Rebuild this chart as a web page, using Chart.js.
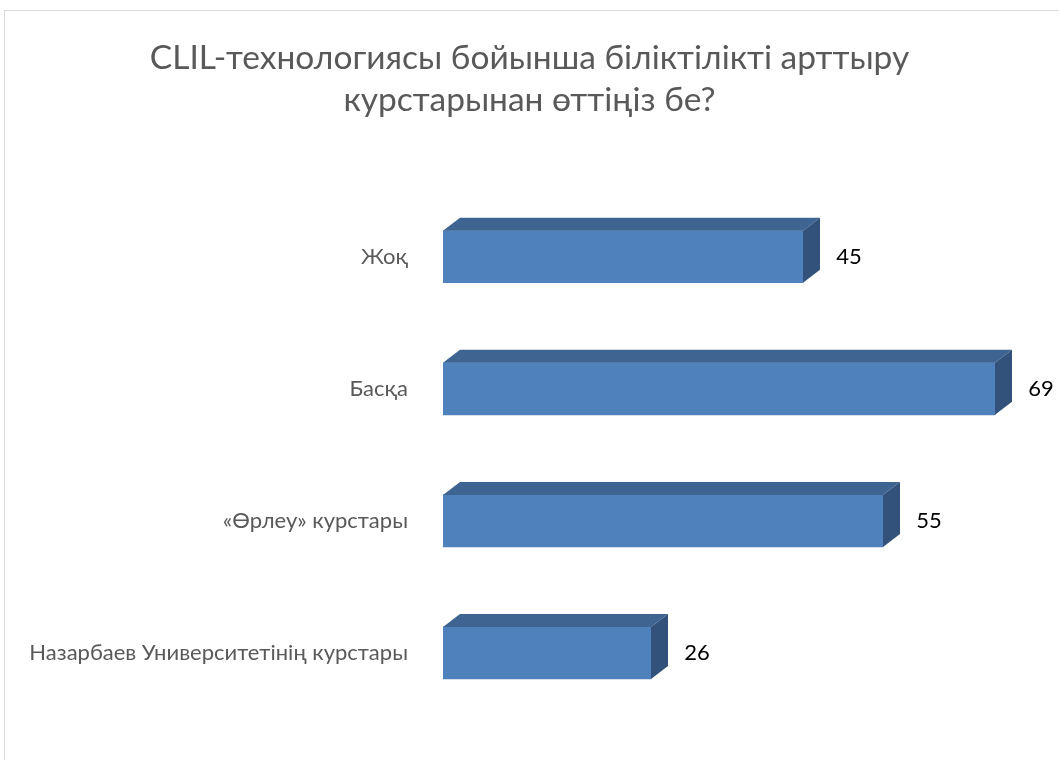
<!DOCTYPE html>
<html>
<head>
<meta charset="utf-8">
<script src="https://cdn.jsdelivr.net/npm/chart.js@4.4.0/dist/chart.umd.min.js"></script>
<style>
  html, body { margin: 0; padding: 0; background: #fff; }
  #wrap { width: 1059px; height: 760px; position: relative; }
</style>
</head>
<body>
<div id="wrap"><canvas id="courseChart" width="1059" height="760"></canvas></div>
<script>
// chart data
const categories = ['Жоқ', 'Басқа', '«Өрлеу» курстары', 'Назарбаев Университетінің курстары'];
const counts = [45, 69, 55, 26];
const titleLines = ['CLIL-технологиясы бойынша біліктілікті арттыру', 'курстарынан өттіңіз бе?'];

const DEPTH_X = 17, DEPTH_Y = 13;

// frame around the chart
const framePlugin = {
  id: 'frame',
  beforeDraw(chart) {
    const ctx = chart.ctx;
    ctx.save();
    ctx.fillStyle = '#fff';
    ctx.fillRect(0, 0, chart.width, chart.height);
    ctx.strokeStyle = '#d9d9d9';
    ctx.lineWidth = 1;
    ctx.strokeRect(4.5, 10.5, chart.width + 10, chart.height + 10);
    ctx.restore();
  }
};

// top + side faces for the 3D look, then value labels
const bar3dPlugin = {
  id: 'bar3d',
  afterDatasetsDraw(chart) {
    const ctx = chart.ctx;
    const meta = chart.getDatasetMeta(0);
    ctx.save();
    meta.data.forEach((bar, i) => {
      const top = bar.y - bar.height / 2;
      const bottom = bar.y + bar.height / 2;
      ctx.fillStyle = '#3e6491';
      ctx.beginPath();
      ctx.moveTo(bar.base, top);
      ctx.lineTo(bar.base + DEPTH_X, top - DEPTH_Y);
      ctx.lineTo(bar.x + DEPTH_X, top - DEPTH_Y);
      ctx.lineTo(bar.x, top);
      ctx.closePath();
      ctx.fill();

      ctx.fillStyle = '#32527c';
      ctx.beginPath();
      ctx.moveTo(bar.x, top);
      ctx.lineTo(bar.x + DEPTH_X, top - DEPTH_Y);
      ctx.lineTo(bar.x + DEPTH_X, bottom - DEPTH_Y);
      ctx.lineTo(bar.x, bottom);
      ctx.closePath();
      ctx.fill();

      ctx.fillStyle = '#000';
      ctx.font = '22px Lato, "Open Sans", sans-serif';
      ctx.textAlign = 'center';
      ctx.textBaseline = 'middle';
      ctx.fillText(String(counts[i]), bar.x + 46, bar.y);
    });
    ctx.restore();
  }
};

new Chart(document.getElementById('courseChart'), {
  type: 'bar',
  data: {
    labels: categories,
    datasets: [{
      data: counts,
      backgroundColor: '#4f81bd',
      borderWidth: 0,
      barThickness: 52
    }]
  },
  options: {
    indexAxis: 'y',
    responsive: false,
    animation: false,
    layout: { padding: { top: 0, bottom: 41, left: 0, right: 0 } },
    scales: {
      x: {
        display: false,
        min: 0,
        max: 77
      },
      y: {
        grid: { display: false },
        border: { display: false },
        afterFit(scale) { scale.width = 443; },
        ticks: {
          color: '#595959',
          font: { family: 'Lato, "Open Sans", sans-serif', size: 22 },
          padding: 27
        }
      }
    },
    plugins: {
      legend: { display: false },
      tooltip: { enabled: false },
      title: {
        display: true,
        text: titleLines,
        color: '#595959',
        font: { family: 'Lato, "Open Sans", sans-serif', size: 33.5, weight: 'normal', lineHeight: 1.25 },
        padding: { top: 37, bottom: 70 }
      }
    }
  },
  plugins: [framePlugin, bar3dPlugin]
});
</script>
</body>
</html>
